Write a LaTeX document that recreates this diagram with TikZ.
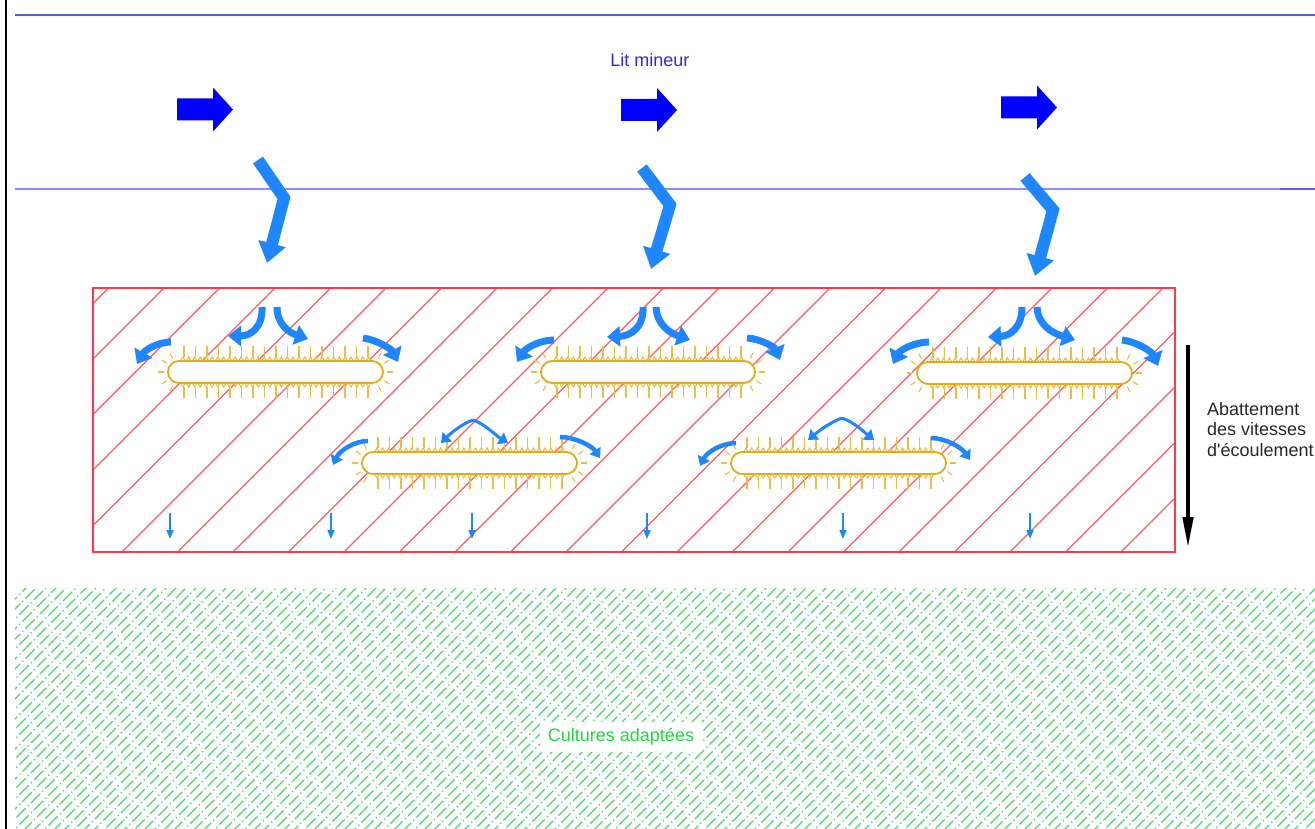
\documentclass[tikz,border=0pt]{standalone}
\usepackage{fontspec}
\setmainfont{Liberation Sans}[Ligatures=TeXOff]
\usetikzlibrary{arrows.meta}
\definecolor{riv}{HTML}{5A5AF0}
\definecolor{rivclair}{HTML}{8C8CFF}
\definecolor{litbleu}{HTML}{2A2AE8}
\definecolor{bloc}{HTML}{0000FF}
\definecolor{flux}{HTML}{1E86FF}
\definecolor{haiec}{HTML}{E4AC1A}
\definecolor{rouge}{HTML}{FF3A48}
\definecolor{vert}{HTML}{4AD66C}
\definecolor{vertx}{HTML}{1FD83C}

% une haie : gauche, droite, milieu
\newcommand{\haie}[3]{%
  \foreach \t in {0,...,16}{
    \draw[epine] ({#1+16+\t*11.5},{#3-15}) -- ++(0,-11);
    \draw[epine] ({#1+16+\t*11.5},{#3+15}) -- ++(0,11);}
  \draw[epine] ({#1+12},{#3-10}) \foreach \t in {0,...,32}{ -- ++(2.9,-5) -- ++(2.9,5)};
  \draw[epine] ({#1+12},{#3+10}) \foreach \t in {0,...,32}{ -- ++(2.9,5) -- ++(2.9,-5)};
  \foreach \a in {115,145,180,215,245}{
    \draw[epine,shift={(#1+11,#3)}] (\a:15) -- (\a:21);
    \draw[epine,shift={(#2-11,#3)}] (180-\a:15) -- (180-\a:21);}
  \draw[haiebord] (#1,{#3-11}) rectangle (#2,{#3+11});
}

\begin{document}
\begin{tikzpicture}[x=1pt,y=-1pt,
  riviere/.style={draw=riv,line width=1.5pt},
  hachure/.style={draw=rouge!85!white,line width=1.1pt},
  culture/.style={draw=vert,line width=1.2pt,dash pattern=on 13pt off 3pt on 1.5pt off 3pt},
  haiebord/.style={draw=haiec,line width=1.8pt,fill=white,rounded corners=11pt},
  epine/.style={draw=haiec!80!white,line width=1.1pt},
  courant/.style={draw=flux,line width=7pt,-{Triangle[length=13pt,width=20pt]}},
  courantfin/.style={draw=flux,line width=3pt,-{Triangle[length=9pt,width=13pt]}},
  crue/.style={draw=flux,line width=12pt,line join=miter,-{Triangle[length=20pt,width=27pt]}},
  infiltr/.style={draw=flux,line width=1.8pt,-{Triangle[length=9pt,width=7pt]}},
  texte/.style={font=\fontsize{18}{20.5}\selectfont}]
  \useasboundingbox (0,0) rectangle (1315,829);

  % bord et lit mineur
  \draw[line width=2.2pt] (6,0) -- (6,829);
  \draw[riviere] (15,15) -- (1315,15);
  \draw[riviere,draw=rivclair] (15,189) -- (1280,189);
  \draw[riviere] (1280,189) -- (1315,189);
  \node[texte,text=litbleu] (lit) at (650,60) {Lit mineur};

  \foreach \x/\y in {177/109.5,621/110,1001/107.5}
    \fill[bloc] (\x,\y-11) -- ++(36,0) -- ++(0,-11) -- ++(20,22) -- ++(-20,22)
       -- ++(0,-11) -- ++(-36,0) -- cycle;

  % debordement vers la zone
  \draw[crue] (258,160) -- (284,198) -- (267,263);
  \draw[crue] (642,168) -- (670,205) -- (651,269);
  \draw[crue] (1025,177) -- (1053,210) -- (1035,276);

  % zone hachuree rouge
  \begin{scope}
    \clip (93,288) rectangle (1175,552);
    \foreach \k in {0,...,24}
      \draw[hachure] ({396.5+55.5*\k-552},552) -- ({396.5+55.5*\k-288},288);
  \end{scope}
  \draw[draw=rouge,line width=1.3pt] (93,288) rectangle (1175,552);

  % haies
  \haie{168}{383}{372}
  \haie{541}{755}{372}
  \haie{917}{1132}{373}
  \haie{362}{577}{463}
  \haie{731}{946}{463}

  % contournement, rangee haute
  \draw[courant] (262,307) .. controls (263,328) and (250,336) .. (228,336);
  \draw[courant] (277,307) .. controls (277,325) and (290,333) .. (308,339);
  \draw[courant] (171,342) .. controls (158,342) and (145,350) .. (137,364);
  \draw[courant] (363,338) .. controls (378,340) and (392,350) .. (398,362);

  \draw[courant] (643,307) .. controls (644,328) and (630,336) .. (607,337);
  \draw[courant] (656,307) .. controls (657,325) and (670,333) .. (690,340);
  \draw[courant] (554,340) .. controls (540,340) and (526,348) .. (517,362);
  \draw[courant] (747,338) .. controls (762,339) and (775,348) .. (780,360);

  \draw[courant] (1022,307) .. controls (1022,328) and (1010,336) .. (988,337);
  \draw[courant] (1037,307) .. controls (1038,325) and (1052,333) .. (1075,340);
  \draw[courant] (929,342) .. controls (915,342) and (900,350) .. (893,364);
  \draw[courant] (1122,340) .. controls (1138,342) and (1152,352) .. (1158,366);

  % rangee basse
  \draw[courantfin] (473,420) .. controls (462,424) and (452,432) .. (441,443);
  \draw[courantfin] (473,420) .. controls (485,424) and (495,435) .. (508,443);
  \draw[courantfin,line width=4.5pt] (368,441) .. controls (355,441) and (340,450) .. (333,465);
  \draw[courantfin,line width=4.5pt] (560,437) .. controls (575,437) and (592,446) .. (600,458);

  \draw[courantfin] (842,418) .. controls (831,422) and (820,430) .. (808,440);
  \draw[courantfin] (842,418) .. controls (854,422) and (864,432) .. (874,440);
  \draw[courantfin,line width=4.5pt] (736,443) .. controls (722,443) and (707,452) .. (700,466);
  \draw[courantfin,line width=4.5pt] (931,438) .. controls (946,438) and (962,448) .. (970,460);

  \foreach \x in {170,331,472,647,843,1030}
    \draw[infiltr] (\x,513) -- (\x,539);

  % abattement
  \draw[line width=4.5pt,-{Triangle[length=32pt,width=10pt]}] (1188,345) -- (1188,549);
  \node[texte,anchor=north west,align=left,text=black!85,inner sep=0pt] (abat) at (1207,402)
       {Abattement\\des vitesses\\d'écoulement};

  % cultures
  \begin{scope}
    \clip (15,588) rectangle (1315,829);
    \foreach \a [count=\i] in {-275,-265,...,1315}{
      \pgfmathsetmacro{\d}{mod(\i*7,20)}
      \draw[culture] ({\a-\d},{829+\d}) -- ({\a+260},{569});}
  \end{scope}
  \node[texte,fill=white,text=vertx,inner xsep=8pt,inner ysep=7pt] (cult) at (621,737)
       {Cultures adaptées};
\end{tikzpicture}
\end{document}
